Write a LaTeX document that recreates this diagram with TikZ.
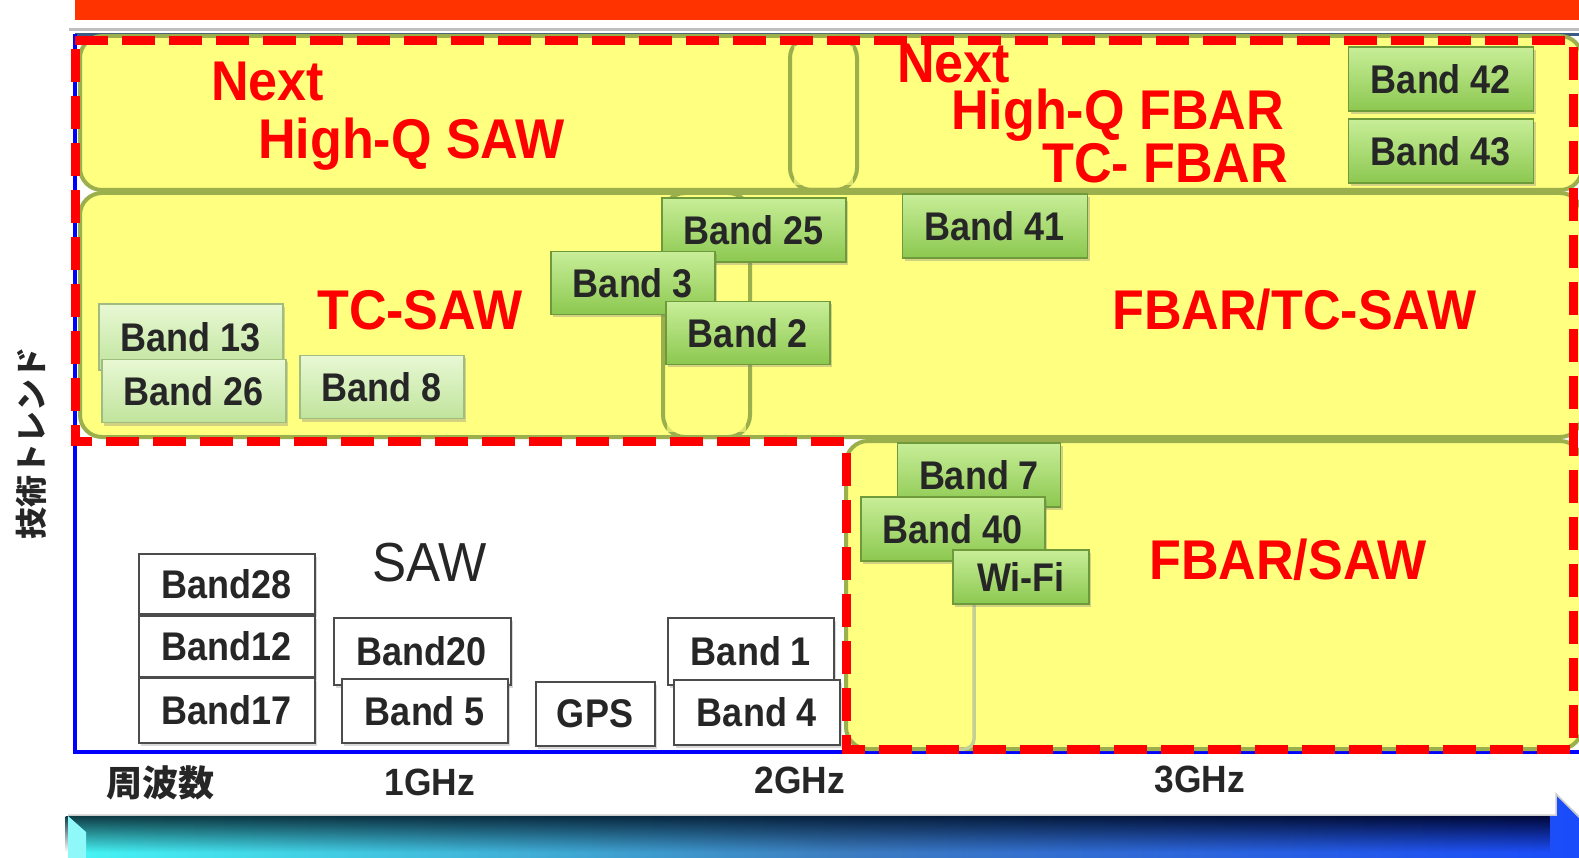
\documentclass[tikz,border=0pt]{standalone}
\usepackage{fontspec}
\setmainfont{Liberation Sans}
\newfontfamily\bandfont[FakeStretch=0.9]{Liberation Sans}
\newfontfamily\labelfont[FakeStretch=0.93]{Liberation Sans}
\newfontfamily\jpfont{Noto Sans CJK JP}
\usetikzlibrary{shadows,fadings}

\definecolor{bannerred}{HTML}{FF3300}
\definecolor{areayellow}{HTML}{FFFF80}
\definecolor{areaolive}{HTML}{9BAF4C}
\definecolor{gtop}{HTML}{C8EE98}
\definecolor{gbot}{HTML}{8CC850}
\definecolor{gline}{HTML}{6E9A3C}
\definecolor{ltop}{HTML}{E8F8D4}
\definecolor{lbot}{HTML}{C0E49C}
\definecolor{lline}{HTML}{A0BC80}
\definecolor{inkgray}{HTML}{262626}
\definecolor{frameblue}{HTML}{3D5A80}
\definecolor{arrowcyan}{HTML}{45F5F5}
\definecolor{arrowmid}{HTML}{3C7CC0}
\definecolor{arrowblue}{HTML}{1848FF}
\definecolor{darkteal}{HTML}{0E3C44}
\definecolor{darknavy}{HTML}{00083A}

\tikzfading[name=fadedown, top color=transparent!0, bottom color=transparent!100]

\begin{document}
\begin{tikzpicture}[x=1pt, y=-1pt,
  areafill/.style={fill=areayellow, rounded corners=22pt},
  area/.style={draw=areaolive, line width=4pt, rounded corners=22pt},
  gband/.style={rectangle, draw=gline, line width=1.2pt, top color=gtop, bottom color=gbot,
    text=inkgray, inner sep=0pt, font=\bandfont\bfseries\fontsize{40}{44}\selectfont,
    drop shadow={shadow xshift=2pt, shadow yshift=-3pt, opacity=0.35}},
  lband/.style={gband, draw=lline, top color=ltop, bottom color=lbot},
  wband/.style={rectangle, draw=black!70, line width=2pt, fill=white, text=inkgray,
    inner sep=0pt, font=\bandfont\bfseries\fontsize{40}{44}\selectfont,
    drop shadow={shadow xshift=2pt, shadow yshift=-3pt, opacity=0.3}},
  tech/.style={text=red, inner sep=0pt, anchor=base west,
    font=\labelfont\bfseries\fontsize{56}{60}\selectfont},
  ghz/.style={text=inkgray, inner sep=0pt, anchor=base,
    font=\labelfont\bfseries\fontsize{38}{40}\selectfont}]
  \useasboundingbox (0,0) rectangle (1579,858);
  \clip (0,0) rectangle (1579,858);

  % banner
  \fill[black!25] (69,-5) rectangle (1590,31);
  \fill[white] (66,-5) rectangle (1590,28);
  \fill[bannerred] (75,-5) rectangle (1590,20);

  % frame
  \draw[frameblue, line width=3pt] (75,35) -- (1590,35);
  \draw[blue, line width=4pt] (75,34) -- (75,752) -- (1590,752);

  % technology areas
  \fill[areafill] (80,36) rectangle (857,190);
  \fill[areafill] (790,36) rectangle (1582,190);
  \fill[areafill] (80,193) rectangle (750,437);
  \fill[areafill] (663,193) rectangle (1582,437);
  \fill[areafill] (846,441) rectangle (1582,749);
  \draw[area] (80,36) rectangle (857,190);
  \draw[area] (790,36) rectangle (1582,190);
  \draw[area] (80,193) rectangle (750,437);
  \draw[area] (663,193) rectangle (1582,437);
  \draw[area] (846,441) rectangle (1582,749);
  \fill[areayellow, opacity=0.65] (794,46) rectangle (853,185);
  \fill[areayellow, opacity=0.65] (667,202) rectangle (746,432);
  \draw[areaolive!60, line width=3.5pt, rounded corners=10pt] (974,600) -- (974,749) -- (950,749);

  \draw[red, line width=9pt, dash pattern=on 33pt off 14pt]
    (75,41) -- (1573,41) -- (1573,749) -- (846,749) -- (846,441) -- (75,441) -- cycle;

  % bands
  \node[gband, minimum width=185, minimum height=64] (b42) at (1441,79) {Band 42};
  \node[gband, minimum width=185, minimum height=64] (b43) at (1441,151) {Band 43};
  \node[gband, minimum width=185, minimum height=64] (b41) at (995,226) {Band 41};
  \node[gband, minimum width=184, minimum height=64] (b25) at (754,230) {Band 25};
  \node[gband, minimum width=164, minimum height=63] (b3) at (633,283) {Band 3};
  \node[gband, minimum width=164, minimum height=63] (b2) at (748,333) {Band 2};
  \node[lband, minimum width=184, minimum height=66] (b13) at (191,337) {Band 13};
  \node[lband, minimum width=184, minimum height=63] (b26) at (194,391) {Band 26};
  \node[lband, minimum width=164, minimum height=63] (b8) at (382,387) {Band 8};
  \node[gband, minimum width=163, minimum height=64] (b7) at (979,475) {Band 7};
  \node[gband, minimum width=184, minimum height=64] (b40) at (953,529) {Band 40};
  \node[gband, minimum width=136, minimum height=54] (wifi) at (1021,577) {Wi-Fi};

  \node[wband, minimum width=176, minimum height=60] (b28) at (227,584) {Band28};
  \node[wband, minimum width=176, minimum height=61] (b12) at (227,646) {Band12};
  \node[wband, minimum width=176, minimum height=65] (b17) at (227,710) {Band17};
  \node[wband, minimum width=177, minimum height=67] (b20) at (422,651) {Band20};
  \node[wband, minimum width=166, minimum height=64] (b5) at (425,711) {Band 5};
  \node[wband, minimum width=119, minimum height=64] (gps) at (595,714) {GPS};
  \node[wband, minimum width=166, minimum height=67] (b1) at (751,651) {Band 1};
  \node[wband, minimum width=166, minimum height=65] (b4) at (757,712) {Band 4};

  % labels
  \node[tech] (nextsaw) at (211,101) {Next};
  \node[tech] (hqsaw) at (258,159) {High-Q SAW};
  \node[tech] (nextfbar) at (897,83) {Next};
  \node[tech] (hqfbar) at (951,130) {High-Q FBAR};
  \node[tech] (tcfbar) at (1042,183) {TC- FBAR};
  \node[tech] (tcsaw) at (317,330) {TC-SAW};
  \node[tech] (fbartc) at (1112,330) {FBAR/TC-SAW};
  \node[tech] (fbarsaw) at (1149,579) {FBAR/SAW};
  \node[text=inkgray, inner sep=0pt, anchor=base west,
    font=\labelfont\fontsize{55}{60}\selectfont] (saw) at (372,581) {SAW};

  % axes
  \node[rotate=90, text=inkgray, font=\jpfont\bfseries\fontsize{32}{34}\selectfont] (trend) at (31,443) {技術トレンド};
  \node[text=inkgray, font=\jpfont\bfseries\fontsize{36}{38}\selectfont] (freq) at (160,783) {周波数};
  \node[ghz] (g1) at (430,795) {1GHz};
  \node[ghz] (g2) at (800,793) {2GHz};
  \node[ghz] (g3) at (1200,792) {3GHz};

  % frequency arrow
  \shade[left color=arrowcyan, right color=arrowblue, middle color=arrowmid]
    (68,816) -- (1556,816) -- (1556,795) -- (1630,862) -- (68,862) -- cycle;
  \shade[left color=darkteal, right color=darknavy, path fading=fadedown]
    (68,816) rectangle (1556,852);
  \fill[arrowcyan!60!white] (68,816) -- (86,832) -- (86,862) -- (68,862) -- cycle;
  \draw[black!20, line width=1.5pt] (68,815) -- (1556,815) -- (1556,794) -- (1630,868);
\end{tikzpicture}
\end{document}
